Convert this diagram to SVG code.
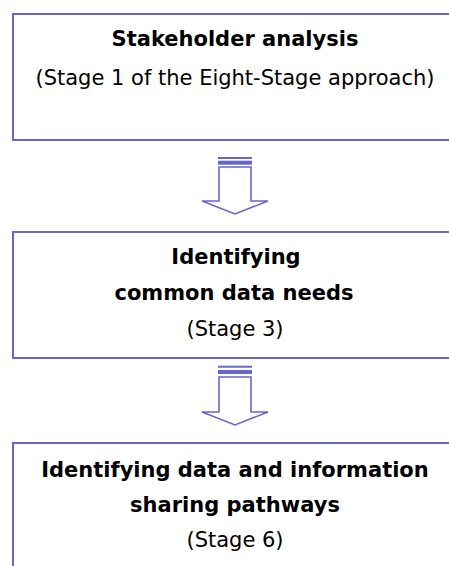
<svg xmlns="http://www.w3.org/2000/svg" width="449" height="566" viewBox="0 0 449 566">
<style>
.box{fill:#ffffff;stroke:#6666cc;stroke-width:2}
.arrow{fill:#ffffff;stroke:#6666cc;stroke-width:1.6;stroke-linejoin:miter}
.bar{fill:#6666cc}
.b{font-family:"DejaVu Sans",Verdana,sans-serif;font-weight:bold;font-size:21px;fill:#000;text-anchor:middle}
.r{font-family:"DejaVu Sans",Verdana,sans-serif;font-size:21px;fill:#000;text-anchor:middle}
</style>
<rect width="449" height="566" fill="#ffffff"/>
<g id="node1">
<rect class="box" x="13" y="14" width="460" height="126"/>
<text class="b" x="235" y="46">Stakeholder analysis</text>
<text class="r" x="235" y="85">(Stage 1 of the Eight-Stage approach)</text>
</g>
<g id="node2">
<rect class="box" x="13" y="232" width="460" height="126"/>
<text class="b" x="236" y="264">Identifying</text>
<text class="b" x="234" y="300">common data needs</text>
<text class="r" x="235" y="336">(Stage 3)</text>
</g>
<g id="node3">
<rect class="box" x="13" y="443" width="460" height="140"/>
<text class="b" x="235" y="477">Identifying data and information</text>
<text class="b" x="235" y="512">sharing pathways</text>
<text class="r" x="235" y="547">(Stage 6)</text>
</g>
<g id="connectors">
<g id="arrow1">
<rect class="bar" x="218" y="157" width="34" height="2"/>
<rect class="bar" x="218" y="160.7" width="34" height="4"/>
<path class="arrow" d="M219,167 L219,201 L202,201 L235,214 L268,201 L251,201 L251,167 Z"/>
</g>
<g id="arrow2">
<rect class="bar" x="218" y="365.7" width="34" height="2"/>
<rect class="bar" x="218" y="370" width="34" height="4"/>
<path class="arrow" d="M219,377 L219,412 L202,412 L235,425 L268,412 L251,412 L251,377 Z"/>
</g>
</g>
</svg>
